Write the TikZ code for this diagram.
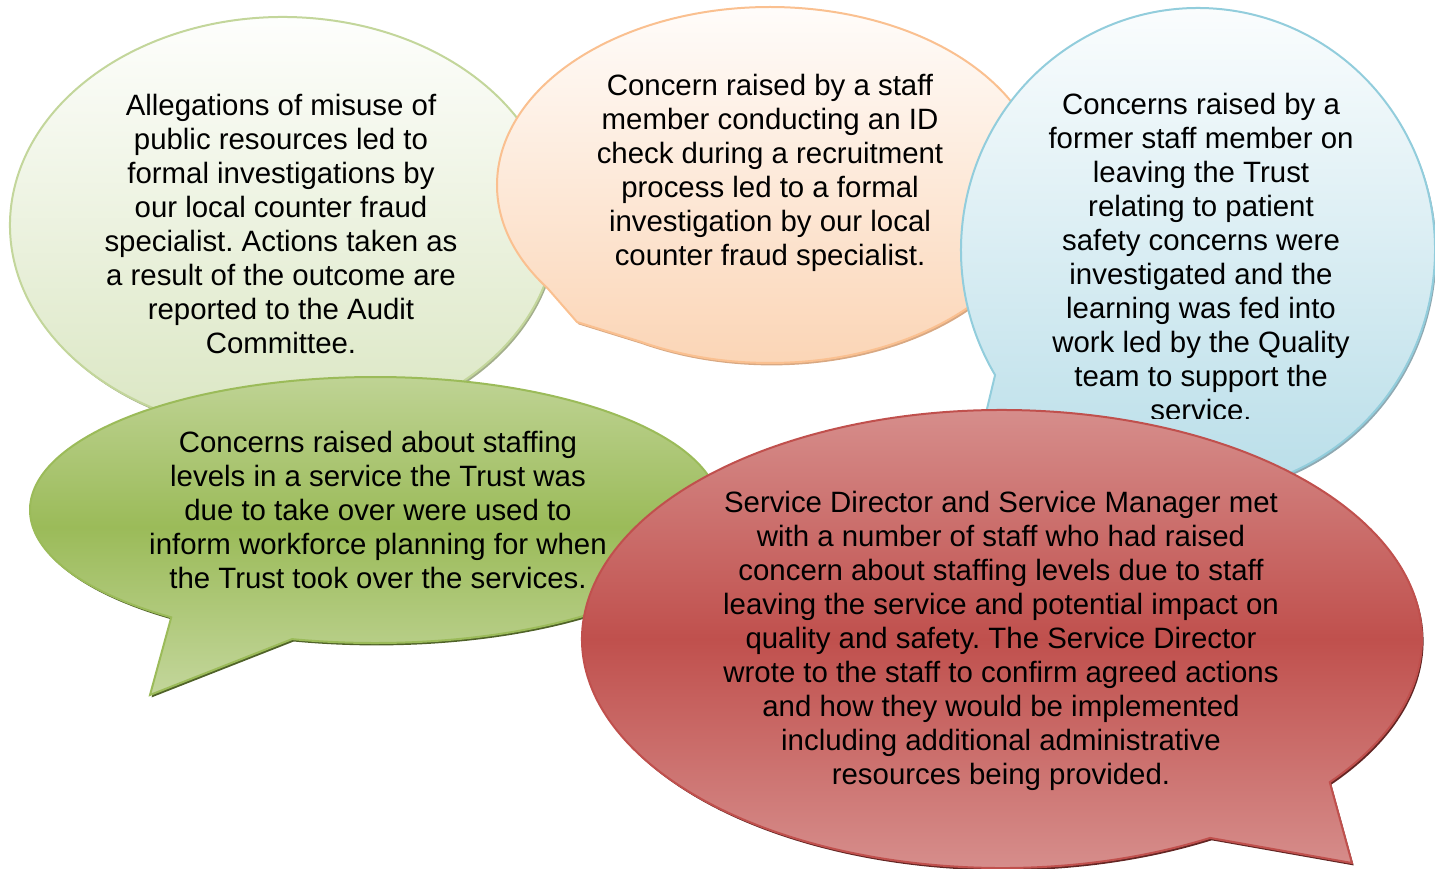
\documentclass[tikz,border=0pt]{standalone}
\usepackage{fontspec}
\setmainfont{Liberation Sans}
\usetikzlibrary{shadows}
\frenchspacing

\definecolor{limefill}{HTML}{D7E4BD}
\definecolor{limeedge}{HTML}{C3D69B}
\definecolor{limeshade}{HTML}{A3AE8C}
\definecolor{peachfill}{HTML}{FBD4B4}
\definecolor{peachedge}{HTML}{FAC090}
\definecolor{peachshade}{HTML}{D8A882}
\definecolor{skyfill}{HTML}{B7DDE8}
\definecolor{skyedge}{HTML}{92CDDC}
\definecolor{skyshade}{HTML}{8FA9B2}
\definecolor{olivelight}{HTML}{C3D69B}
\definecolor{olivemid}{HTML}{9BBB59}
\definecolor{oliveshade}{HTML}{4F6228}
\definecolor{bricklight}{HTML}{D99694}
\definecolor{brickmid}{HTML}{C0504D}
\definecolor{brickshade}{HTML}{632523}

\begin{document}
\begin{tikzpicture}[x=0.5pt,y=-0.5pt,
  bubble/.style={line width=1pt, drop shadow={shadow xshift=0.8pt, shadow yshift=-1.2pt, opacity=1, fill=#1}},
  txt/.style={align=center, font=\fontsize{14.7}{17}\selectfont, inner sep=0pt}]
\useasboundingbox (0,0) rectangle (1435,868);

% Counter fraud (back left)
\draw[bubble=limeshade, draw=limeedge, top color=white, bottom color=limefill]
  (283,225) ++(100:273 and 208) arc[start angle=100, end angle=440, x radius=273, y radius=208]
  -- (250,470) -- cycle;
\node[txt] (allegations) at (281,224) {Allegations of misuse of\\public resources led to\\formal investigations by\\our local counter fraud\\specialist. Actions taken as\\a result of the outcome are\\reported to the Audit\\Committee.};

% ID check
\draw[bubble=peachshade, draw=peachedge, top color=white, bottom color=peachfill]
  (770,185) ++(144.7:273 and 178) arc[start angle=144.7, end angle=478.5, x radius=273, y radius=178]
  -- (577,322) -- cycle;
\node[txt] (idcheck) at (770,173) {Concern raised by a staff\\member conducting an ID\\check during a recruitment\\process led to a formal\\investigation by our local\\counter fraud specialist.};

% Patient safety
\draw[bubble=skyshade, draw=skyedge, top color=white, bottom color=skyfill]
  (1198,250) ++(148.9:237 and 242) arc[start angle=148.9, end angle=480, x radius=237, y radius=242]
  -- (970,480) -- cycle;
\begin{scope}
\clip (940,0) rectangle (1435,418);
\node[txt] (patientsafety) at (1201,257) {Concerns raised by a\\former staff member on\\leaving the Trust\\relating to patient\\safety concerns were\\investigated and the\\learning was fed into\\work led by the Quality\\team to support the\\service.};
\end{scope}

% Staffing levels
\draw[bubble=oliveshade, draw=olivemid, top color=olivelight, bottom color=olivelight, middle color=olivemid]
  (375,510) ++(126.2:345 and 133) arc[start angle=126.2, end angle=463.9, x radius=345, y radius=133]
  -- (150,695) -- cycle;
\node[txt] (staffing) at (378,510) {Concerns raised about staffing\\levels in a service the Trust was\\due to take over were used to\\inform workforce planning for when\\the Trust took over the services.};

% Service Director (front)
\draw[bubble=brickshade, draw=brickmid, top color=bricklight, bottom color=bricklight, middle color=brickmid]
  (1002,639) ++(60.3:420 and 229) arc[start angle=60.3, end angle=398.7, x radius=420, y radius=229]
  -- (1352,863) -- cycle;
\node[txt] (directors) at (1001,641) {Service Director and Service Manager met\\with a number of staff who had raised\\concern about staffing levels due to staff\\leaving the service and potential impact on\\quality and safety. The Service Director\\wrote to the staff to confirm agreed actions\\and how they would be implemented\\including additional administrative\\resources being provided.};
\end{tikzpicture}
\end{document}
